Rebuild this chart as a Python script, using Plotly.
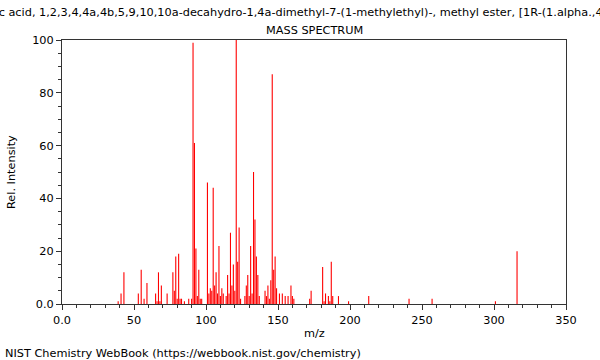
import plotly.graph_objects as go

# m/z values and relative intensities
mz = [39, 41, 43, 53, 55, 57, 59, 65, 66, 67, 68, 69, 73, 77, 78, 79, 80, 81, 82, 83,
      85, 88, 90, 91, 92, 93, 94, 95, 96, 97, 101, 102, 103, 104, 105, 106, 107, 108,
      109, 110, 111, 112, 114, 115, 116, 117, 118, 119, 120, 121, 122, 123, 124, 127,
      128, 129, 130, 131, 132, 133, 134, 135, 136, 137, 141, 142, 143, 144, 145, 146,
      147, 148, 149, 151, 153, 155, 157, 159, 160, 161, 172, 173, 181, 182, 183, 185,
      186, 187, 188, 192, 199, 213, 241, 257, 301, 316]
intensity = [1, 4, 12, 4, 13, 2, 8, 4, 1, 12, 1, 7, 4, 12, 5, 18, 2, 19, 2, 2,
             1, 2, 2, 99, 61, 21, 3, 13, 2, 2, 46, 4, 6, 5, 44, 7, 12, 4,
             22, 3, 6, 4, 3, 11, 4, 27, 7, 15, 5, 100, 16, 29, 2, 3,
             7, 11, 3, 22, 4, 50, 32, 18, 11, 3, 5, 3, 7, 2, 9, 87,
             13, 18, 6, 4, 4, 3, 3, 7, 3, 2, 2, 5, 14, 1, 4, 3,
             1, 16, 3, 3, 1, 3, 2, 2, 1, 20]

x_ticks = [0, 50, 100, 150, 200, 250, 300, 350]
x_tick_labels = ["0.0", "50", "100", "150", "200", "250", "300", "350"]
y_ticks = [0, 20, 40, 60, 80, 100]
y_tick_labels = ["0.0", "20", "40", "60", "80", "100"]

compound = ("1-Phenanthrenecarboxylic acid, 1,2,3,4,4a,4b,5,9,10,10a-decahydro-1,4a-dimethyl-"
            "7-(1-methylethyl)-, methyl ester, [1R-(1.alpha.,4a.beta.,4b.alpha.,10a.alpha.)]-")

FONT = "DejaVu Sans"
FS = 11.3

# stick spectrum: one vertical segment per peak, drawn through the axes
xs, ys = [], []
for m, v in zip(mz, intensity):
    xs += [m, m, None]
    ys += [0, v, None]

fig = go.Figure()
fig.add_trace(go.Scatter(x=xs, y=ys, mode="lines",
                         line=dict(color="#ff0000", width=1.1),
                         showlegend=False, hoverinfo="skip", cliponaxis=True))

axis_common = dict(showgrid=False, zeroline=False, showline=True, linecolor="#333333",
                   linewidth=1, mirror=True, ticks="outside", ticklen=5, tickcolor="#333333",
                   tickfont=dict(family=FONT, size=FS, color="#000000"))

fig.update_xaxes(range=[0, 350], tickvals=x_ticks, ticktext=x_tick_labels,
                 minor=dict(dtick=10, ticks="outside", ticklen=3, tickcolor="#333333"),
                 **axis_common)
fig.update_yaxes(range=[0, 100], tickvals=y_ticks, ticktext=y_tick_labels,
                 minor=dict(dtick=5, ticks="outside", ticklen=3, tickcolor="#333333"),
                 **axis_common)

W, H = 600, 360
L, R, T, B = 62, 34, 40, 56
pw, ph = W - L - R, H - T - B

fig.update_layout(
    width=W, height=H,
    margin=dict(l=L, r=R, t=T, b=B, autoexpand=False),
    paper_bgcolor="white", plot_bgcolor="white",
    hovermode=False,
    font=dict(family=FONT, size=FS, color="#000000"),
)

def px_to_paper(x, y):
    return (x - L) / pw, (H - B - y) / ph

annotations = []
for a in [
    dict(text=compound, px=315.5, py=12, xanchor="center"),
    dict(text="MASS SPECTRUM", px=314, py=30, xanchor="center"),
    dict(text="m/z", px=314, py=333, xanchor="center"),
    dict(text="NIST Chemistry WebBook (https://webbook.nist.gov/chemistry)", px=3, py=353, xanchor="left"),
]:
    xx, yy = px_to_paper(a["px"], a["py"])
    annotations.append(dict(text=a["text"], x=xx, y=yy, xref="paper", yref="paper",
                            xanchor=a["xanchor"], yanchor="middle", showarrow=False,
                            font=dict(family=FONT, size=FS, color="#000000")))
xx, yy = px_to_paper(11, 172)
annotations.append(dict(text="Rel. Intensity", x=xx, y=yy, xref="paper", yref="paper",
                        xanchor="center", yanchor="middle", showarrow=False, textangle=-90,
                        font=dict(family=FONT, size=FS, color="#000000")))
fig.update_layout(annotations=annotations)

fig.write_html("out.html", config={"displayModeBar": False, "staticPlot": True},
               post_script="document.body.style.margin='0';document.body.style.overflow='hidden';")
